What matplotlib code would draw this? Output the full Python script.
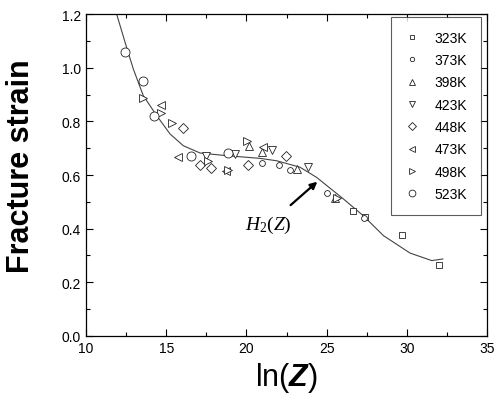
import matplotlib
matplotlib.use('Agg')
import matplotlib.pyplot as plt

plt.rcParams['font.family'] = ['Liberation Sans', 'DejaVu Sans']
plt.rcParams['mathtext.fontset'] = 'custom'
plt.rcParams['mathtext.rm'] = 'Liberation Serif'
plt.rcParams['mathtext.it'] = 'Liberation Serif:italic'
plt.rcParams['mathtext.bfit'] = 'Liberation Sans:italic:bold'

# Measured fracture strain vs ln(Z), one list per test temperature
x_323 = [26.67, 27.39, 29.68, 32.0]
y_323 = [0.467, 0.445, 0.378, 0.265]
x_373 = [20.95, 22.05, 22.72, 25.0, 27.35]
y_373 = [0.644, 0.637, 0.620, 0.533, 0.439]
x_398 = [20.16, 20.95, 23.13, 25.52]
y_398 = [0.709, 0.687, 0.622, 0.514]
x_423 = [17.48, 19.29, 21.58, 23.86]
y_423 = [0.672, 0.678, 0.694, 0.629]
x_448 = [16.03, 17.11, 17.79, 20.08, 22.45]
y_448 = [0.774, 0.638, 0.625, 0.637, 0.672]
x_473 = [14.66, 15.71, 18.73, 21.06]
y_473 = [0.861, 0.668, 0.616, 0.703]
x_498 = [13.53, 14.68, 15.34, 17.62, 20.02, 18.85, 25.63]
y_498 = [0.886, 0.830, 0.794, 0.651, 0.728, 0.620, 0.515]
x_523 = [12.43, 13.55, 14.24, 16.53, 18.87]
y_523 = [1.060, 0.950, 0.820, 0.672, 0.681]

# model curve H2(Z)
curve_x = [11.91, 12.43, 12.95, 13.57, 14.41, 15.24, 16.07, 17.11, 18.77,
           20.85, 21.89, 23.34, 24.38, 26.04, 27.29, 28.54, 30.2, 31.55, 32.24]
curve_y = [1.20, 1.096, 0.995, 0.896, 0.821, 0.753, 0.709, 0.682, 0.672,
           0.662, 0.653, 0.629, 0.591, 0.511, 0.448, 0.374, 0.309, 0.281, 0.287]

series = [
    (x_323, y_323, 's', 4.2, '323K'),
    (x_373, y_373, 'o', 4.2, '373K'),
    (x_398, y_398, '^', 6.0, '398K'),
    (x_423, y_423, 'v', 6.0, '423K'),
    (x_448, y_448, 'D', 5.0, '448K'),
    (x_473, y_473, '<', 6.0, '473K'),
    (x_498, y_498, '>', 6.0, '498K'),
    (x_523, y_523, 'o', 6.5, '523K'),
]

fig = plt.figure(figsize=(4.97, 4.06), dpi=100)
ax = fig.add_axes([0.173, 0.170, 0.807, 0.793])

ax.plot(curve_x, curve_y, color='#444444', lw=0.8, zorder=1)

for xs, ys, m, ms, lab in series:
    ax.plot(xs, ys, linestyle='none', marker=m, markersize=ms,
            markerfacecolor='white', markeredgecolor='#222222',
            markeredgewidth=0.6, label=lab, zorder=2)

ax.annotate(r'$H_2(Z)$', xy=(24.42, 0.575), xytext=(21.35, 0.414),
            fontsize=14, ha='center', va='center',
            arrowprops=dict(arrowstyle='-|>', color='black', lw=1.6,
                            mutation_scale=10, shrinkA=7, shrinkB=0))

ax.set_xlim(10, 35)
ax.set_ylim(0, 1.2)
ax.set_xticks([10, 15, 20, 25, 30, 35])
ax.set_xticks([12.5, 17.5, 22.5, 27.5, 32.5], minor=True)
ax.set_yticks([0.0, 0.2, 0.4, 0.6, 0.8, 1.0, 1.2])
ax.set_yticks([0.1, 0.3, 0.5, 0.7, 0.9, 1.1], minor=True)
ax.yaxis.set_major_formatter(matplotlib.ticker.FormatStrFormatter('%.1f'))
ax.tick_params(which='both', direction='in', top=True, right=True,
               labelsize=10, width=0.8)
ax.tick_params(which='major', length=5)
ax.tick_params(which='minor', length=3)
for s in ax.spines.values():
    s.set_linewidth(0.9)

ax.set_ylabel('Fracture strain', fontsize=22, fontweight='bold')
ax.yaxis.set_label_coords(-0.125, 0.53)
ax.set_xlabel(r'ln($\mathbfit{Z}$)', fontsize=22, labelpad=4)

leg = ax.legend(loc='upper right', bbox_to_anchor=(0.985, 0.991),
                fontsize=10, frameon=True, fancybox=False, edgecolor='#333333',
                handlelength=0.9, handletextpad=1.2, borderpad=1.0,
                labelspacing=0.6, markerscale=0.75, borderaxespad=0)
leg.get_frame().set_linewidth(0.8)

fig.savefig('out.png', dpi=100)
